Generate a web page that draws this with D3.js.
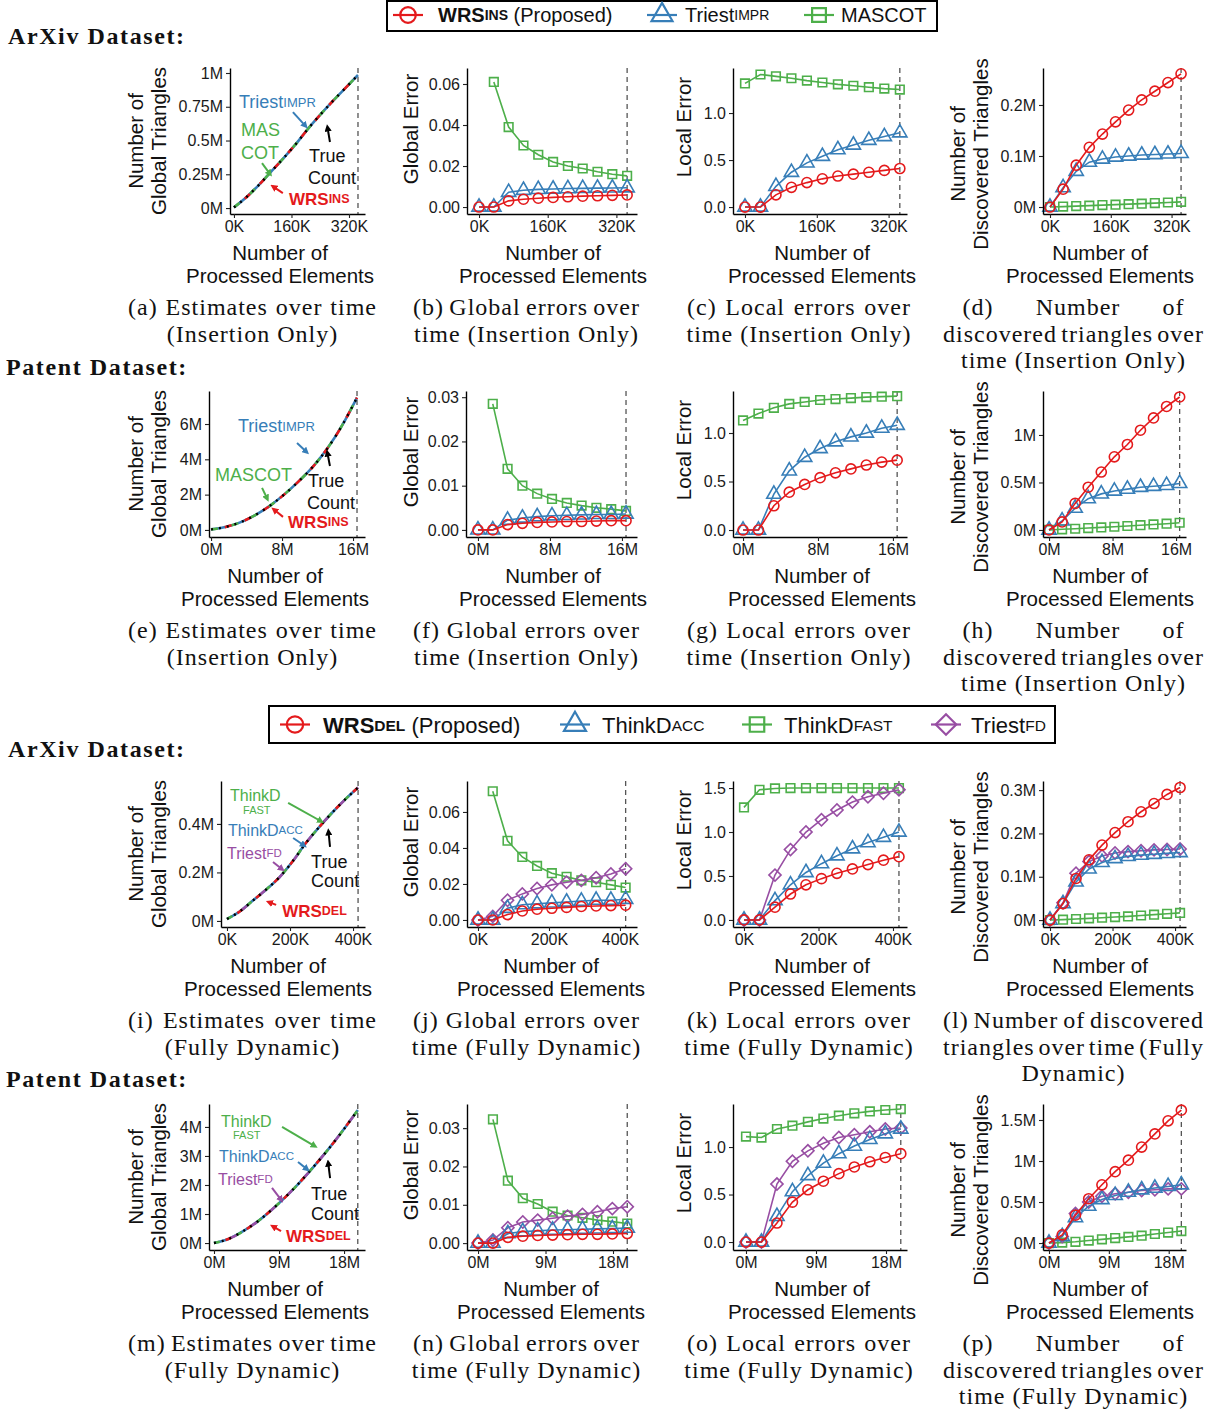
<!DOCTYPE html>
<html>
<head>
<meta charset="utf-8">
<script src="https://cdn.jsdelivr.net/npm/d3@7"></script>
<style>
  body { margin: 0; background: #fff; }
  svg { display: block; }
</style>
</head>
<body>
<svg id="chart" width="1210" height="1409"></svg>
<script>
// ---- checkpoints on the x axis (K elements for ArXiv, M elements for Patent)
const arxivInsX = [0, 34.5, 69, 103.5, 138, 172.5, 207, 241.5, 276, 310.5, 345];
const patentInsX = [0, 1.645, 3.29, 4.935, 6.58, 8.225, 9.87, 11.515, 13.16, 14.805, 16.45];
const arxivDynX = [0, 41.6, 83.2, 124.8, 166.4, 208, 249.6, 291.2, 332.8, 374.4, 416];
const patentDynX = [0, 1.99, 3.98, 5.97, 7.96, 9.95, 11.94, 13.93, 15.92, 17.91, 19.9];

// ---- true global triangle counts (M)
const arxivInsTrue = [0.005, 0.08, 0.17, 0.27, 0.37, 0.475, 0.59, 0.695, 0.795, 0.89, 0.985];
const patentInsTrue = [0.03, 0.17, 0.43, 0.83, 1.35, 2.0, 2.75, 3.6, 4.65, 5.95, 7.5];
const arxivDynTrue = [0.008, 0.04, 0.085, 0.13, 0.18, 0.245, 0.32, 0.385, 0.445, 0.5, 0.55];
const patentDynTrue = [0, 0.14, 0.4, 0.73, 1.14, 1.6, 2.11, 2.67, 3.26, 3.9, 4.58];

// ---- insertion only, ArXiv
const arxivInsGlobalWRS = [0, 0, 0.003, 0.0038, 0.0043, 0.0047, 0.005, 0.0053, 0.0055, 0.0057, 0.0059];
const arxivInsGlobalTriest = [0, 0, 0.0072, 0.0082, 0.0086, 0.0088, 0.009, 0.0091, 0.0092, 0.0093, 0.0094];
const arxivInsGlobalMascot = [null, 0.061, 0.039, 0.030, 0.0255, 0.022, 0.020, 0.0188, 0.0172, 0.016, 0.0152];
const arxivInsLocalWRS = [0, 0, 0.13, 0.21, 0.26, 0.30, 0.33, 0.35, 0.37, 0.39, 0.41];
const arxivInsLocalTriest = [0, 0, 0.22, 0.37, 0.47, 0.54, 0.61, 0.66, 0.71, 0.75, 0.79];
const arxivInsLocalMascot = [1.315, 1.41, 1.39, 1.37, 1.345, 1.325, 1.305, 1.29, 1.275, 1.26, 1.25];
const arxivInsFoundWRS = [0, 0.035, 0.082, 0.117, 0.143, 0.167, 0.19, 0.21, 0.227, 0.244, 0.261];
const arxivInsFoundTriest = [0, 0.038, 0.07, 0.088, 0.094, 0.098, 0.1, 0.102, 0.103, 0.104, 0.105];
const arxivInsFoundMascot = [0, 0.0008, 0.0018, 0.0027, 0.0037, 0.0046, 0.0056, 0.0066, 0.0077, 0.0088, 0.0101];

// ---- insertion only, Patent
const patentInsGlobalWRS = [0, 0, 0.0012, 0.0015, 0.0017, 0.0018, 0.0019, 0.0019, 0.002, 0.0021, 0.0021];
const patentInsGlobalTriest = [0, 0, 0.0022, 0.0027, 0.003, 0.0032, 0.0033, 0.0034, 0.0035, 0.0035, 0.0036];
const patentInsGlobalMascot = [null, 0.0285, 0.0138, 0.01, 0.0082, 0.007, 0.0061, 0.0055, 0.005, 0.0047, 0.0043];
const patentInsLocalWRS = [0, 0, 0.25, 0.39, 0.47, 0.54, 0.59, 0.63, 0.67, 0.70, 0.72];
const patentInsLocalTriest = [0, 0, 0.37, 0.61, 0.75, 0.84, 0.91, 0.96, 1.0, 1.05, 1.08];
const patentInsLocalMascot = [1.13, 1.2, 1.26, 1.3, 1.32, 1.34, 1.35, 1.36, 1.37, 1.375, 1.38];
const patentInsFoundWRS = [0, 0.085, 0.28, 0.45, 0.61, 0.77, 0.9, 1.05, 1.18, 1.3, 1.4];
const patentInsFoundTriest = [0, 0.095, 0.23, 0.33, 0.38, 0.41, 0.43, 0.45, 0.46, 0.47, 0.49];
const patentInsFoundMascot = [0, 0.007, 0.013, 0.02, 0.027, 0.034, 0.042, 0.05, 0.058, 0.066, 0.076];

// ---- fully dynamic, ArXiv
const arxivDynGlobalWRS = [0, 0, 0.003, 0.005, 0.006, 0.0065, 0.007, 0.0075, 0.0078, 0.008, 0.0082];
const arxivDynGlobalAcc = [0, 0, 0.0065, 0.0085, 0.009, 0.0095, 0.01, 0.0105, 0.011, 0.011, 0.0115];
const arxivDynGlobalFast = [null, 0.0715, 0.044, 0.035, 0.03, 0.026, 0.024, 0.022, 0.021, 0.0195, 0.018];
const arxivDynGlobalFD = [0, 0.002, 0.011, 0.0145, 0.0175, 0.0195, 0.021, 0.022, 0.0235, 0.0255, 0.0285];
const arxivDynLocalWRS = [0, 0, 0.145, 0.295, 0.4, 0.47, 0.53, 0.58, 0.63, 0.68, 0.72];
const arxivDynLocalAcc = [0, 0, 0.22, 0.4, 0.54, 0.64, 0.73, 0.81, 0.88, 0.94, 1.0];
const arxivDynLocalFast = [1.28, 1.48, 1.495, 1.5, 1.5, 1.5, 1.5, 1.5, 1.5, 1.5, 1.5];
const arxivDynLocalFD = [0, 0, 0.51, 0.8, 1.0, 1.14, 1.25, 1.34, 1.4, 1.44, 1.48];
const arxivDynFoundWRS = [0, 0.038, 0.096, 0.139, 0.173, 0.202, 0.227, 0.25, 0.269, 0.29, 0.306];
const arxivDynFoundAcc = [0, 0.038, 0.088, 0.118, 0.133, 0.142, 0.147, 0.15, 0.152, 0.154, 0.156];
const arxivDynFoundFast = [0, 0.001, 0.0025, 0.004, 0.0055, 0.007, 0.0085, 0.0105, 0.0125, 0.0145, 0.0165];
const arxivDynFoundFD = [0, 0.04, 0.108, 0.135, 0.148, 0.155, 0.158, 0.16, 0.162, 0.163, 0.164];

// ---- fully dynamic, Patent
const patentDynGlobalWRS = [0, 0, 0.0015, 0.0018, 0.002, 0.0021, 0.0022, 0.0023, 0.0023, 0.0024, 0.0025];
const patentDynGlobalAcc = [0, 0, 0.0025, 0.003, 0.0032, 0.0034, 0.0035, 0.0036, 0.0037, 0.0038, 0.0039];
const patentDynGlobalFast = [null, 0.0323, 0.0163, 0.0117, 0.0102, 0.0082, 0.0072, 0.0066, 0.006, 0.0056, 0.0051];
const patentDynGlobalFD = [0, 0.0008, 0.004, 0.0055, 0.006, 0.0065, 0.007, 0.0075, 0.0082, 0.009, 0.0095];
const patentDynLocalWRS = [0, 0, 0.2, 0.42, 0.55, 0.64, 0.72, 0.79, 0.845, 0.89, 0.93];
const patentDynLocalAcc = [0, 0, 0.27, 0.53, 0.7, 0.83, 0.93, 1.01, 1.08, 1.14, 1.19];
const patentDynLocalFast = [1.11, 1.1, 1.19, 1.225, 1.265, 1.3, 1.33, 1.355, 1.375, 1.39, 1.4];
const patentDynLocalFD = [0, 0, 0.61, 0.85, 0.96, 1.04, 1.1, 1.13, 1.16, 1.19, 1.2];
const patentDynFoundWRS = [0, 0.1, 0.34, 0.54, 0.71, 0.87, 1.01, 1.17, 1.33, 1.49, 1.62];
const patentDynFoundAcc = [0, 0.08, 0.31, 0.45, 0.53, 0.58, 0.62, 0.65, 0.67, 0.69, 0.71];
const patentDynFoundFast = [0, 0.005, 0.015, 0.03, 0.045, 0.06, 0.075, 0.09, 0.11, 0.128, 0.146];
const patentDynFoundFD = [0, 0.08, 0.36, 0.5, 0.57, 0.6, 0.62, 0.64, 0.65, 0.66, 0.66];

// ---- tick labels
const kTicks160 = ['0K', '160K', '320K'];
const kTicks200 = ['0K', '200K', '400K'];
const mTicks8 = ['0M', '8M', '16M'];
const mTicks9 = ['0M', '9M', '18M'];
const errTicks2 = ['0.00', '0.02', '0.04', '0.06'];
const errTicks1 = ['0.00', '0.01', '0.02', '0.03'];

const COLORS = { red: '#e41a1c', blue: '#377eb8', green: '#4daf4a', purple: '#984ea3', black: '#000' };
const SANS = '"Liberation Sans", Arial, Helvetica, sans-serif';
const SERIF = '"Liberation Serif", "Times New Roman", serif';

const svg = d3.select('#chart');
const rowTops = [68, 391, 781, 1104];
const plotH = 146;
const colRights = [365, 637, 907, 1186];

// arrow heads for annotations
const defs = svg.append('defs');
Object.entries(COLORS).forEach(([k, c]) => {
    defs.append('marker')
        .attr('id', 'ah-' + k)
        .attr('viewBox', '0 0 10 10')
        .attr('refX', 6).attr('refY', 5)
        .attr('markerWidth', 3.6).attr('markerHeight', 3.6)
        .attr('orient', 'auto')
        .append('path').attr('d', 'M0,0L10,5L0,10z').attr('fill', c);
});

const shapes = {
    circle: d3.symbol().type(d3.symbolCircle).size(80)(),
    triangle: d3.symbol().type(d3.symbolTriangle).size(88)(),
    square: d3.symbol().type(d3.symbolSquare).size(74)(),
    diamond: d3.symbol().type(d3.symbolSquare).size(74)()
};

function insSeries(wrs, triest, mascot) {
    return [
        { values: mascot, color: 'green', shape: 'square' },
        { values: triest, color: 'blue', shape: 'triangle' },
        { values: wrs, color: 'red', shape: 'circle' }
    ];
}
function dynSeries(wrs, acc, fast, fd) {
    return [
        { values: fast, color: 'green', shape: 'square' },
        { values: fd, color: 'purple', shape: 'diamond' },
        { values: acc, color: 'blue', shape: 'triangle' },
        { values: wrs, color: 'red', shape: 'circle' }
    ];
}

// annotation labels of the estimate panels (data coordinates)
const notesInsA = {
    texts: [
        { parts: [['Triest', 18], ['IMPR', 13]], c: 'blue', x: 14, y: 0.785 },
        { parts: [['MAS', 18]], c: 'green', x: 19.5, y: 0.578 },
        { parts: [['COT', 18]], c: 'green', x: 19.5, y: 0.407 },
        { parts: [['True', 18]], c: 'black', x: 209, y: 0.385 },
        { parts: [['Count', 18]], c: 'black', x: 206, y: 0.222 },
        { parts: [['WRS', 17, 'bold'], ['INS', 12.5, 'bold']], c: 'red', x: 153, y: 0.067 }
    ],
    arrows: [
        { c: 'blue', x1: 164, y1: 0.71, x2: 200, y2: 0.605 },
        { c: 'green', x1: 78, y1: 0.333, x2: 101, y2: 0.25 },
        { c: 'black', x1: 267, y1: 0.489, x2: 260, y2: 0.6 },
        { c: 'red', x1: 136, y1: 0.111, x2: 108, y2: 0.16 }
    ]
};
const notesInsE = {
    texts: [
        { parts: [['Triest', 18], ['IMPR', 13]], c: 'blue', x: 3.04, y: 5.89 },
        { parts: [['MASCOT', 18]], c: 'green', x: 0.45, y: 3.11 },
        { parts: [['True', 18]], c: 'black', x: 10.93, y: 2.77 },
        { parts: [['Count', 18]], c: 'black', x: 10.82, y: 1.53 },
        { parts: [['WRS', 17, 'bold'], ['INS', 12.5, 'bold']], c: 'red', x: 8.68, y: 0.45 }
    ],
    arrows: [
        { c: 'blue', x1: 9.69, y1: 4.92, x2: 10.8, y2: 4.4 },
        { c: 'green', x1: 5.75, y1: 2.38, x2: 6.35, y2: 1.75 },
        { c: 'black', x1: 13.4, y1: 3.62, x2: 13.1, y2: 4.4 },
        { c: 'red', x1: 8.11, y1: 0.74, x2: 7.05, y2: 1.17 }
    ]
};
const notesDynI = {
    texts: [
        { parts: [['ThinkD', 16]], c: 'green', x: 9.5, y: 0.52 },
        { parts: [['FAST', 11]], c: 'green', x: 51, y: 0.458 },
        { parts: [['ThinkD', 16], ['ACC', 11.5]], c: 'blue', x: 3, y: 0.375 },
        { parts: [['Triest', 16], ['FD', 11.5]], c: 'purple', x: 0, y: 0.28 },
        { parts: [['True', 18]], c: 'black', x: 267, y: 0.243 },
        { parts: [['Count', 18]], c: 'black', x: 267, y: 0.165 },
        { parts: [['WRS', 17, 'bold'], ['DEL', 12.5, 'bold']], c: 'red', x: 175, y: 0.041 }
    ],
    arrows: [
        { c: 'green', x1: 194, y1: 0.487, x2: 300, y2: 0.41 },
        { c: 'blue', x1: 210, y1: 0.342, x2: 246, y2: 0.31 },
        { c: 'purple', x1: 146, y1: 0.243, x2: 176, y2: 0.212 },
        { c: 'black', x1: 327, y1: 0.305, x2: 322, y2: 0.37 },
        { c: 'red', x1: 156, y1: 0.066, x2: 132, y2: 0.078 }
    ]
};
const notesDynM = {
    texts: [
        { parts: [['ThinkD', 16]], c: 'green', x: 0.97, y: 4.21 },
        { parts: [['FAST', 11]], c: 'green', x: 2.63, y: 3.72 },
        { parts: [['ThinkD', 16], ['ACC', 11.5]], c: 'blue', x: 0.69, y: 3.0 },
        { parts: [['Triest', 16], ['FD', 11.5]], c: 'purple', x: 0.55, y: 2.21 },
        { parts: [['True', 18]], c: 'black', x: 13.43, y: 1.69 },
        { parts: [['Count', 18]], c: 'black', x: 13.43, y: 1.0 },
        { parts: [['WRS', 17, 'bold'], ['DEL', 12.5, 'bold']], c: 'red', x: 9.97, y: 0.24 }
    ],
    arrows: [
        { c: 'green', x1: 9.42, y1: 4.0, x2: 14.0, y2: 3.33 },
        { c: 'blue', x1: 11.63, y1: 2.79, x2: 12.95, y2: 2.53 },
        { c: 'purple', x1: 8.03, y1: 1.9, x2: 9.35, y2: 1.47 },
        { c: 'black', x1: 16.07, y1: 2.24, x2: 15.8, y2: 2.78 },
        { c: 'red', x1: 9.28, y1: 0.41, x2: 8.1, y2: 0.58 }
    ]
};

const captionsIns = [
    ['(a) Estimates over time', '(Insertion Only)'],
    ['(b) Global errors over', 'time (Insertion Only)'],
    ['(c) Local errors over', 'time (Insertion Only)'],
    ['(d) Number of', 'discovered triangles over', 'time (Insertion Only)'],
    ['(e) Estimates over time', '(Insertion Only)'],
    ['(f) Global errors over', 'time (Insertion Only)'],
    ['(g) Local errors over', 'time (Insertion Only)'],
    ['(h) Number of', 'discovered triangles over', 'time (Insertion Only)']
];
const captionsDyn = [
    ['(i) Estimates over time', '(Fully Dynamic)'],
    ['(j) Global errors over', 'time (Fully Dynamic)'],
    ['(k) Local errors over', 'time (Fully Dynamic)'],
    ['(l) Number of discovered', 'triangles over time (Fully', 'Dynamic)'],
    ['(m) Estimates over time', '(Fully Dynamic)'],
    ['(n) Global errors over', 'time (Fully Dynamic)'],
    ['(o) Local errors over', 'time (Fully Dynamic)'],
    ['(p) Number of', 'discovered triangles over', 'time (Fully Dynamic)']
];
const captions = captionsIns.concat(captionsDyn);

const panels = [
    { row: 0, col: 0, left: 230, kind: 'est', xs: arxivInsX, truth: arxivInsTrue, mode: 'ins', notes: notesInsA,
      xDom: [-11, 364.5], yDom: [-0.044, 1.037], yTicks: [0, 0.25, 0.5, 0.75, 1], yLabels: ['0M', '0.25M', '0.5M', '0.75M', '1M'],
      xTicks: [0, 160, 320], xLabels: kTicks160, titleX: 280 },
    { row: 0, col: 1, left: 467, xs: arxivInsX, series: insSeries(arxivInsGlobalWRS, arxivInsGlobalTriest, arxivInsGlobalMascot),
      xDom: [-28, 368], yDom: [-0.0034, 0.0678], yTicks: [0, 0.02, 0.04, 0.06], yLabels: errTicks2,
      xTicks: [0, 160, 320], xLabels: kTicks160, titleX: 553 },
    { row: 0, col: 2, left: 733, xs: arxivInsX, series: insSeries(arxivInsLocalWRS, arxivInsLocalTriest, arxivInsLocalMascot),
      xDom: [-26.7, 361], yDom: [-0.074, 1.479], yTicks: [0, 0.5, 1], yLabels: ['0.0', '0.5', '1.0'],
      xTicks: [0, 160, 320], xLabels: kTicks160, titleX: 822 },
    { row: 0, col: 3, left: 1043, xs: arxivInsX, series: insSeries(arxivInsFoundWRS, arxivInsFoundTriest, arxivInsFoundMascot),
      xDom: [-18.4, 358], yDom: [-0.0137, 0.2725], yTicks: [0, 0.1, 0.2], yLabels: ['0M', '0.1M', '0.2M'],
      xTicks: [0, 160, 320], xLabels: kTicks160, titleX: 1100 },

    { row: 1, col: 0, left: 209, kind: 'est', xs: patentInsX, truth: patentInsTrue, mode: 'ins', notes: notesInsE,
      xDom: [-0.23, 17.35], yDom: [-0.40, 7.87], yTicks: [0, 2, 4, 6], yLabels: ['0M', '2M', '4M', '6M'],
      xTicks: [0, 8, 16], xLabels: mTicks8, titleX: 275 },
    { row: 1, col: 1, left: 466, xs: patentInsX, series: insSeries(patentInsGlobalWRS, patentInsGlobalTriest, patentInsGlobalMascot),
      xDom: [-1.33, 17.67], yDom: [-0.0016, 0.0314], yTicks: [0, 0.01, 0.02, 0.03], yLabels: errTicks1,
      xTicks: [0, 8, 16], xLabels: mTicks8, titleX: 553 },
    { row: 1, col: 2, left: 733, xs: patentInsX, series: insSeries(patentInsLocalWRS, patentInsLocalTriest, patentInsLocalMascot),
      xDom: [-1.07, 17.5], yDom: [-0.072, 1.433], yTicks: [0, 0.5, 1], yLabels: ['0.0', '0.5', '1.0'],
      xTicks: [0, 8, 16], xLabels: mTicks8, titleX: 822 },
    { row: 1, col: 3, left: 1043, xs: patentInsX, series: insSeries(patentInsFoundWRS, patentInsFoundTriest, patentInsFoundMascot),
      xDom: [-0.76, 17.25], yDom: [-0.074, 1.463], yTicks: [0, 0.5, 1], yLabels: ['0M', '0.5M', '1M'],
      xTicks: [0, 8, 16], xLabels: mTicks8, titleX: 1100 },

    { row: 2, col: 0, left: 221, kind: 'est', xs: arxivDynX, truth: arxivDynTrue, mode: 'dyn', notes: notesDynI,
      xDom: [-19, 438], yDom: [-0.025, 0.577], yTicks: [0, 0.2, 0.4], yLabels: ['0M', '0.2M', '0.4M'],
      xTicks: [0, 200, 400], xLabels: kTicks200, titleX: 278 },
    { row: 2, col: 1, left: 467, xs: arxivDynX, series: dynSeries(arxivDynGlobalWRS, arxivDynGlobalAcc, arxivDynGlobalFast, arxivDynGlobalFD),
      xDom: [-31, 448], yDom: [-0.0039, 0.0772], yTicks: [0, 0.02, 0.04, 0.06], yLabels: errTicks2,
      xTicks: [0, 200, 400], xLabels: kTicks200, titleX: 551 },
    { row: 2, col: 2, left: 733, xs: arxivDynX, series: dynSeries(arxivDynLocalWRS, arxivDynLocalAcc, arxivDynLocalFast, arxivDynLocalFD),
      xDom: [-29.5, 437.6], yDom: [-0.08, 1.58], yTicks: [0, 0.5, 1, 1.5], yLabels: ['0.0', '0.5', '1.0', '1.5'],
      xTicks: [0, 200, 400], xLabels: kTicks200, titleX: 822 },
    { row: 2, col: 3, left: 1043, xs: arxivDynX, series: dynSeries(arxivDynFoundWRS, arxivDynFoundAcc, arxivDynFoundFast, arxivDynFoundFD),
      xDom: [-22.4, 435], yDom: [-0.016, 0.321], yTicks: [0, 0.1, 0.2, 0.3], yLabels: ['0M', '0.1M', '0.2M', '0.3M'],
      xTicks: [0, 200, 400], xLabels: kTicks200, titleX: 1100 },

    { row: 3, col: 0, left: 209, kind: 'est', xs: patentDynX, truth: patentDynTrue, mode: 'dyn', notes: notesDynM,
      xDom: [-0.69, 20.9], yDom: [-0.24, 4.79], yTicks: [0, 1, 2, 3, 4], yLabels: ['0M', '1M', '2M', '3M', '4M'],
      xTicks: [0, 9, 18], xLabels: mTicks9, titleX: 275 },
    { row: 3, col: 1, left: 467, xs: patentDynX, series: dynSeries(patentDynGlobalWRS, patentDynGlobalAcc, patentDynGlobalFast, patentDynGlobalFD),
      xDom: [-1.47, 21.2], yDom: [-0.0018, 0.0363], yTicks: [0, 0.01, 0.02, 0.03], yLabels: errTicks1,
      xTicks: [0, 9, 18], xLabels: mTicks9, titleX: 551 },
    { row: 3, col: 2, left: 733, xs: patentDynX, series: dynSeries(patentDynLocalWRS, patentDynLocalAcc, patentDynLocalFast, patentDynLocalFD),
      xDom: [-1.67, 20.7], yDom: [-0.084, 1.453], yTicks: [0, 0.5, 1], yLabels: ['0.0', '0.5', '1.0'],
      xTicks: [0, 9, 18], xLabels: mTicks9, titleX: 822 },
    { row: 3, col: 3, left: 1043, xs: patentDynX, series: dynSeries(patentDynFoundWRS, patentDynFoundAcc, patentDynFoundFast, patentDynFoundFD),
      xDom: [-0.9, 20.6], yDom: [-0.085, 1.695], yTicks: [0, 0.5, 1, 1.5], yLabels: ['0M', '0.5M', '1M', '1.5M'],
      xTicks: [0, 9, 18], xLabels: mTicks9, titleX: 1100 }
];

// y-axis titles per column: x positions of the lines and vertical offset from the plot centre
const yTitles = [
    { lines: ['Number of', 'Global Triangles'], xs: [135, 158], dy: 0 },
    { lines: ['Global Error'], xs: [410], dy: -12 },
    { lines: ['Local Error'], xs: [683], dy: -14 },
    { lines: ['Number of', 'Discovered Triangles'], xs: [957, 980], dy: 13 }
];
const captionCols = [
    { cx: 252.5, w: 249 }, { cx: 526.5, w: 227 }, { cx: 799, w: 224 }, { cx: 1073.5, w: 261 }
];

function richText(sel, parts) {
    parts.forEach(([t, size, weight]) => {
        sel.append('tspan').attr('font-size', size).attr('font-weight', weight || 'normal').text(t);
    });
}

function drawEstimate(g, p, x, y) {
    const line = d3.line().x((d, i) => x(p.xs[i])).y(d => y(d)).curve(d3.curveMonotoneX);
    const styles = p.mode === 'ins'
        ? [{ c: 'blue' }, { c: 'green', dash: '7 14', off: 0 }, { c: 'red', dash: '7 14', off: 7 }]
        : [{ c: 'blue' }, { c: 'green', dash: '6 18', off: 0 }, { c: 'purple', dash: '6 18', off: 6 }, { c: 'red', dash: '6 18', off: 12 }];
    styles.forEach(s => {
        g.append('path').attr('d', line(p.truth)).attr('fill', 'none')
            .attr('stroke', COLORS[s.c]).attr('stroke-width', 2.6)
            .attr('stroke-dasharray', s.dash || null).attr('stroke-dashoffset', s.off || 0);
    });
    g.append('path').attr('d', line(p.truth)).attr('fill', 'none')
        .attr('stroke', '#000').attr('stroke-width', 2.4).attr('stroke-dasharray', '2 6');

    p.notes.arrows.forEach(a => {
        g.append('line')
            .attr('x1', x(a.x1)).attr('y1', y(a.y1)).attr('x2', x(a.x2)).attr('y2', y(a.y2))
            .attr('stroke', COLORS[a.c]).attr('stroke-width', 2)
            .attr('marker-end', `url(#ah-${a.c})`);
    });
    p.notes.texts.forEach(t => {
        const el = g.append('text').attr('x', x(t.x)).attr('y', y(t.y))
            .attr('dominant-baseline', 'central').attr('font-family', SANS)
            .attr('fill', COLORS[t.c] === '#000' ? '#111' : COLORS[t.c]);
        richText(el, t.parts);
    });
}

function drawSeries(g, p, x, y) {
    p.series.forEach(s => {
        const pts = s.values.map((v, i) => [p.xs[i], v]).filter(d => d[1] != null);
        g.append('path')
            .attr('d', d3.line().x(d => x(d[0])).y(d => y(d[1]))(pts))
            .attr('fill', 'none').attr('stroke', COLORS[s.color]).attr('stroke-width', 1.6);
        g.selectAll(null).data(pts).join('path')
            .attr('d', shapes[s.shape])
            .attr('transform', d => `translate(${x(d[0])},${y(d[1])})` + (s.shape === 'diamond' ? ' rotate(45)' : ''))
            .attr('fill', 'none').attr('stroke', COLORS[s.color]).attr('stroke-width', 1.6);
    });
}

function drawCaption(col, y0, lines) {
    const { cx, w } = captionCols[col];
    lines.forEach((ln, li) => {
        const yy = y0 + li * 26.5;
        const base = t => svg.append('text').attr('y', yy).attr('dominant-baseline', 'central')
            .attr('font-family', SERIF).attr('font-size', 24).attr('letter-spacing', 1).attr('fill', '#111').text(t);
        if (li === lines.length - 1) {
            base(ln).attr('x', cx).attr('text-anchor', 'middle');
            return;
        }
        // justified line (LaTeX subcaption style); a short three-word line is spread less
        const words = ln.split(' ');
        const lw = words.length === 3 && ln.length < 15 ? 222 : w;
        const nodes = words.map(base);
        const widths = nodes.map(n => n.node().getComputedTextLength());
        const gap = (lw - d3.sum(widths)) / (words.length - 1);
        let xx = cx - lw / 2;
        nodes.forEach((n, i) => { n.attr('x', xx); xx += widths[i] + gap; });
    });
}

panels.forEach((p, idx) => {
    const top = rowTops[p.row], bottom = top + plotH;
    const left = p.left, right = colRights[p.col];
    const x = d3.scaleLinear().domain(p.xDom).range([left, right]);
    const y = d3.scaleLinear().domain(p.yDom).range([bottom, top]);
    const g = svg.append('g');

    const xEnd = p.xs[p.xs.length - 1];
    g.append('line').attr('x1', x(xEnd)).attr('x2', x(xEnd)).attr('y1', top).attr('y2', bottom)
        .attr('stroke', '#555').attr('stroke-width', 1.3).attr('stroke-dasharray', '5,4');

    if (p.kind === 'est') drawEstimate(g, p, x, y); else drawSeries(g, p, x, y);

    const xAxis = d3.axisBottom(x).tickValues(p.xTicks).tickFormat((d, i) => p.xLabels[i])
        .tickSizeInner(4).tickSizeOuter(0).tickPadding(3);
    const yAxis = d3.axisLeft(y).tickValues(p.yTicks).tickFormat((d, i) => p.yLabels[i])
        .tickSizeInner(4).tickSizeOuter(0).tickPadding(3);
    [g.append('g').attr('transform', `translate(0,${bottom})`).call(xAxis),
     g.append('g').attr('transform', `translate(${left},0)`).call(yAxis)].forEach(ax => {
        ax.attr('font-family', SANS).attr('font-size', 16);
        ax.select('.domain').attr('stroke', '#000').attr('stroke-width', 1.4);
        ax.selectAll('.tick line').attr('stroke', '#222').attr('stroke-width', 1.1);
        ax.selectAll('.tick text').attr('fill', '#1a1a1a');
    });

    // axis titles
    ['Number of', 'Processed Elements'].forEach((t, i) => {
        svg.append('text').attr('x', p.titleX).attr('y', bottom + 38 + i * 23)
            .attr('text-anchor', 'middle').attr('dominant-baseline', 'central')
            .attr('font-family', SANS).attr('font-size', 20.5).attr('fill', '#111').text(t);
    });
    const yt = yTitles[p.col];
    const cy = (top + bottom) / 2 + yt.dy;
    yt.lines.forEach((t, i) => {
        svg.append('text').attr('transform', `translate(${yt.xs[i]},${cy}) rotate(-90)`)
            .attr('text-anchor', 'middle').attr('dominant-baseline', 'central')
            .attr('font-family', SANS).attr('font-size', 20.5).attr('fill', '#111').text(t);
    });

    drawCaption(p.col, bottom + 93, captions[idx]);
});

// dataset headings
[['ArXiv Dataset:', 8, 36], ['Patent Dataset:', 6, 367], ['ArXiv Dataset:', 8, 749], ['Patent Dataset:', 6, 1079]]
    .forEach(([t, xx, yy]) => {
        svg.append('text').attr('x', xx).attr('y', yy).attr('dominant-baseline', 'central')
            .attr('font-family', SERIF).attr('font-weight', 'bold').attr('font-size', 24)
            .attr('letter-spacing', 1.6).attr('fill', '#111').text(t);
    });

// legends
const legendIns = [
    { parts: [['WRS', 20, 'bold'], ['INS', 14, 'bold'], [' (Proposed)', 20]], color: 'red', shape: 'circle', mx: 408, tx: 438 },
    { parts: [['Triest', 20], ['IMPR', 14]], color: 'blue', shape: 'triangle', mx: 662, tx: 685 },
    { parts: [['MASCOT', 20]], color: 'green', shape: 'square', mx: 819, tx: 841 }
];
const legendDyn = [
    { parts: [['WRS', 22, 'bold'], ['DEL', 15.5, 'bold'], [' (Proposed)', 22]], color: 'red', shape: 'circle', mx: 295, tx: 323 },
    { parts: [['ThinkD', 22], ['ACC', 15.5]], color: 'blue', shape: 'triangle', mx: 575, tx: 602 },
    { parts: [['ThinkD', 22], ['FAST', 15.5]], color: 'green', shape: 'square', mx: 757, tx: 784 },
    { parts: [['Triest', 22], ['FD', 15.5]], color: 'purple', shape: 'diamond', mx: 946, tx: 971 }
];
function drawLegend(items, box, cy, half, size) {
    const g = svg.append('g');
    g.append('rect').attr('x', box[0]).attr('y', box[1]).attr('width', box[2]).attr('height', box[3])
        .attr('fill', '#fff').attr('stroke', '#000').attr('stroke-width', 2);
    items.forEach(it => {
        const c = COLORS[it.color];
        g.append('line').attr('x1', it.mx - half).attr('x2', it.mx + half).attr('y1', cy).attr('y2', cy)
            .attr('stroke', c).attr('stroke-width', 2.2);
        const sym = d3.symbol().type(it.shape === 'circle' ? d3.symbolCircle : it.shape === 'triangle' ? d3.symbolTriangle : d3.symbolSquare).size(size)();
        g.append('path').attr('d', sym)
            .attr('transform', `translate(${it.mx},${cy})` + (it.shape === 'diamond' ? ' rotate(45)' : ''))
            .attr('fill', 'none').attr('stroke', c).attr('stroke-width', 2.2);
        const el = g.append('text').attr('x', it.tx).attr('y', cy).attr('dominant-baseline', 'central')
            .attr('font-family', SANS).attr('fill', '#111');
        richText(el, it.parts);
    });
}
drawLegend(legendIns, [387, 1, 550, 30], 15, 15, 190);
drawLegend(legendDyn, [269, 706, 786, 37], 724.5, 15, 210);
</script>
</body>
</html>
